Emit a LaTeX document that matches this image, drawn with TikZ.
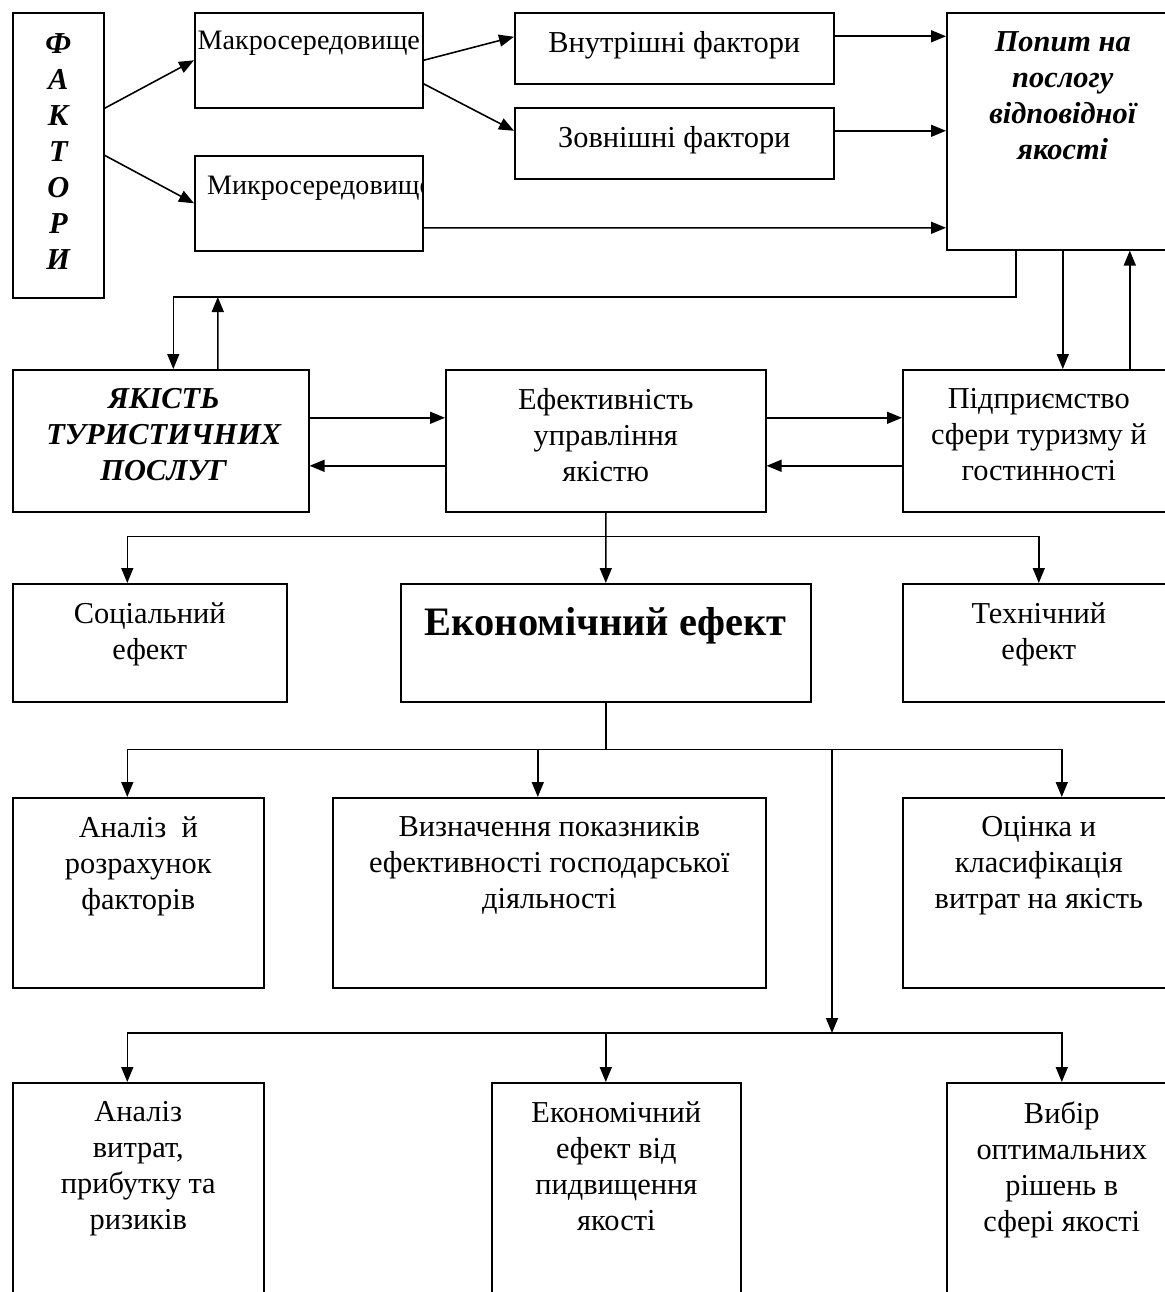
\documentclass[tikz,border=0pt]{standalone}
\usepackage{fontspec}
\setmainfont{Liberation Serif}
\usetikzlibrary{arrows.meta, positioning, calc}
\newcommand{\txtsize}{\fontsize{17.3}{20.5}\selectfont}
\newcommand{\smallsize}{\fontsize{16}{20.5}\selectfont}

\begin{document}
\begin{tikzpicture}[
    box/.style={rectangle, draw=black, line width=0.9pt, anchor=north west, inner sep=0pt},
    boxtext/.style={anchor=north, align=center, inner sep=0pt, yshift=-0.38cm, font=\txtsize},
    arr/.style={draw=black, line width=0.9pt, -{Triangle[length=0.3cm, width=0.24cm]}}
]

\useasboundingbox (0,0) rectangle (23.3,-25.84);
\clip (0,0) rectangle (23.3,-25.84);

% Factors and demand
\node[box, minimum width=1.82cm, minimum height=5.70cm,
  label={[boxtext, yshift=-0.04cm, font=\txtsize\bfseries\itshape]north:Ф\\А\\К\\Т\\О\\Р\\И}] (fak) at (0.24,-0.24) {};
\node[box, minimum width=4.56cm, minimum height=1.90cm,
  label={[boxtext, font=\smallsize]north:Макросередовище}] (makro) at (3.88,-0.24) {};
\node[box, minimum width=4.56cm, minimum height=1.90cm,
  path picture={\node[boxtext, anchor=north west, yshift=0.70cm, font=\smallsize] at ([xshift=0.2cm]path picture bounding box.north west) {Микросередовище};}] (mikro) at (3.88,-3.10) {};
\node[box, minimum width=6.38cm, minimum height=1.42cm,
  label={[boxtext]north:Внутрішні фактори}] (vnutr) at (10.28,-0.24) {};
\node[box, minimum width=6.38cm, minimum height=1.42cm,
  label={[boxtext]north:Зовнішні фактори}] (zovn) at (10.28,-2.14) {};
\node[box, minimum width=4.64cm, minimum height=4.74cm,
  label={[boxtext, font=\txtsize\bfseries\itshape]north:Попит на\\послогу\\відповідної\\якості}] (popyt) at (18.92,-0.24) {};

% Quality management
\node[box, minimum width=5.92cm, minimum height=2.84cm,
  label={[boxtext, xshift=0.06cm, font=\txtsize\bfseries\itshape]north:ЯКІСТЬ\\ТУРИСТИЧНИХ\\ПОСЛУГ}] (yakist) at (0.24,-7.38) {};
\node[box, minimum width=6.40cm, minimum height=2.84cm,
  label={[boxtext]north:Ефективність\\управління\\якістю}] (efekt) at (8.90,-7.38) {};
\node[box, minimum width=5.44cm, minimum height=2.84cm,
  label={[boxtext]north:Підприємство\\сфери туризму й\\гостинності}] (pidpr) at (18.04,-7.38) {};

% Effects
\node[box, minimum width=5.48cm, minimum height=2.36cm,
  label={[boxtext]north:Соціальний\\ефект}] (social) at (0.24,-11.66) {};
\node[box, minimum width=8.20cm, minimum height=2.36cm,
  label={[boxtext, yshift=-0.1cm, font=\fontsize{23}{28}\selectfont\bfseries]north:Економічний ефект}] (econ) at (8.00,-11.66) {};
\node[box, minimum width=5.44cm, minimum height=2.36cm,
  label={[boxtext]north:Технічний\\ефект}] (tech) at (18.04,-11.66) {};

% Tasks
\node[box, minimum width=5.02cm, minimum height=3.80cm,
  label={[boxtext]north:Аналіз\ \ й\\розрахунок\\факторів}] (analiz) at (0.24,-15.94) {};
\node[box, minimum width=8.66cm, minimum height=3.80cm,
  label={[boxtext]north:Визначення показників\\ефективності господарської\\діяльності}] (vyzn) at (6.64,-15.94) {};
\node[box, minimum width=5.44cm, minimum height=3.80cm,
  label={[boxtext]north:Оцінка и\\класифікація\\витрат на якість}] (otsinka) at (18.04,-15.94) {};

\node[box, minimum width=5.02cm, minimum height=5.0cm,
  label={[boxtext]north:Аналіз\\витрат,\\прибутку та\\ризиків}] (vytraty) at (0.24,-21.64) {};
\node[box, minimum width=4.98cm, minimum height=5.0cm,
  label={[boxtext]north:Економічний\\ефект від\\пидвищення\\якості}] (econvid) at (9.82,-21.64) {};
\node[box, minimum width=4.60cm, minimum height=5.0cm,
  label={[boxtext]north:Вибір\\оптимальних\\рішень в\\сфері якості}] (vybir) at (18.92,-21.64) {};

% Arrows of the top block
\draw[arr] ([yshift=0.94cm]fak.east) -- (makro.west);
\draw[arr] (fak.east) -- (mikro.west);
\draw[arr] (makro.east) -- ([yshift=0.23cm]vnutr.west);
\draw[arr] ([yshift=-0.47cm]makro.east) -- ([yshift=0.25cm]zovn.west);
\draw[arr] ([yshift=0.24cm]vnutr.east) -- ($(popyt.west |- vnutr.east)+(0,0.24)$);
\draw[arr] ([yshift=0.25cm]zovn.east) -- ($(popyt.west |- zovn.east)+(0,0.25)$);
\draw[arr] ([yshift=-0.49cm]mikro.east) -- ($(popyt.west |- mikro.east)+(0,-0.49)$);

% Feedback
\draw[arr] ([xshift=-0.94cm]popyt.south) |- ($(yakist.north)+(0.25,1.44)$) -- ([xshift=0.25cm]yakist.north);
\draw[arr] ([xshift=1.14cm]yakist.north) -- ($(yakist.north)+(1.14,1.44)$);
\draw[arr] (popyt.south) -- (popyt.south |- pidpr.north);
\draw[arr] ($(popyt.south |- pidpr.north)+(1.34,0)$) -- ($(popyt.south)+(1.34,0)$);

\draw[arr] ([yshift=0.46cm]yakist.east) -- ([yshift=0.46cm]efekt.west);
\draw[arr] ([yshift=-0.5cm]efekt.west) -- ([yshift=-0.5cm]yakist.east);
\draw[arr] ([yshift=0.46cm]efekt.east) -- ([yshift=0.46cm]pidpr.west);
\draw[arr] ([yshift=-0.5cm]pidpr.west) -- ([yshift=-0.5cm]efekt.east);

% Branches
\coordinate (b1) at ($(efekt.south)+(0,-0.48)$);
\draw[arr] (efekt.south) -- (econ.north);
\draw[arr] (b1) -| ([xshift=-0.45cm]social.north);
\draw[arr] (b1) -| (tech.north);

\coordinate (b2) at ($(econ.south)+(0,-0.94)$);
\coordinate (b3) at (16.64,-20.66);
\draw[line width=0.9pt] (econ.south) -- (b2);
\draw[arr] (b2) -| ([xshift=-0.22cm]analiz.north);
\draw[arr] (b2) -| ([xshift=-0.23cm]vyzn.north);
\draw[arr] (b2) -| ([xshift=0.46cm]otsinka.north);
\draw[arr] (b2 -| b3) -- (b3);

\draw[arr] (b3) -| ([xshift=-0.22cm]vytraty.north);
\draw[arr] (b3) -| (vybir.north);
\draw[arr] ($(b3 -| econvid.north)+(-0.21,0)$) -- ([xshift=-0.21cm]econvid.north);

\end{tikzpicture}
\end{document}
